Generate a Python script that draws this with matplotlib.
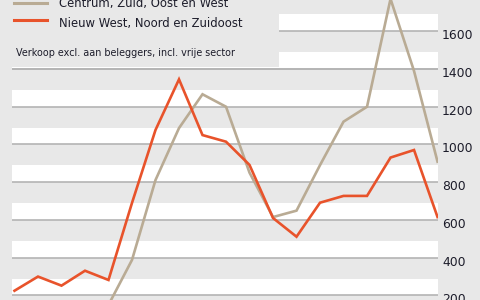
import matplotlib
matplotlib.use("Agg")
import matplotlib.pyplot as plt
from matplotlib.patches import Rectangle
import matplotlib.transforms as mtransforms

# Data
periods = list(range(19))
centrum = [120, 130, 140, 150, 150, 388, 811, 1086, 1265, 1199, 850, 615, 649,
           890, 1120, 1199, 1770, 1388, 908]
nieuw_west = [225, 300, 252, 331, 282, 690, 1076, 1344, 1049, 1014, 891, 610,
              511, 691, 727, 727, 930, 970, 615]
yticks = [200, 400, 600, 800, 1000, 1200, 1400, 1600]
series_labels = ["Centrum, Zuid, Oost en West", "Nieuw West, Noord en Zuidoost"]
note = "Verkoop excl. aan beleggers, incl. vrije sector"

BG = "#e8e8e8"
GRID = "#b4b4b4"
TAN = "#b9ab94"
ORANGE = "#e8532b"
TXT = "#1c1c2a"

fig = plt.figure(figsize=(4.8, 3.0), dpi=100, facecolor=BG)
ax = fig.add_axes([12 / 480, 0, (438 - 12) / 480, 1.0])
ax.set_facecolor(BG)
ax.set_xlim(-0.106, 18.02)
ax.set_ylim(176, 1764)

# white bands above each gridline
for v in yticks + [1800]:
    ax.axhspan(v, v + 88, color="white", lw=0, zorder=0)
for v in yticks + [1800]:
    ax.axhline(v, color=GRID, lw=1.2, zorder=1)

ax.plot(periods, centrum, color=TAN, lw=1.9, zorder=4, solid_joinstyle="miter")
ax.plot(periods, nieuw_west, color=ORANGE, lw=1.9, zorder=5, solid_joinstyle="miter")

for s in ax.spines.values():
    s.set_visible(False)
ax.set_xticks([])
ax.yaxis.tick_right()
ax.set_yticks(yticks)
ax.set_yticklabels([str(v) for v in yticks])
ax.tick_params(axis="y", length=0, pad=3, labelsize=8.9, labelcolor=TXT)
offset = mtransforms.ScaledTranslation(0, -3 / 100, fig.dpi_scale_trans)
for lab in ax.get_yticklabels():
    lab.set_transform(lab.get_transform() + offset)

# legend box (grey) covering the top-left area
fig.patches.append(Rectangle((0, 1 - 67 / 300), 279 / 480, 67 / 300,
                             transform=fig.transFigure, facecolor=BG,
                             edgecolor="none", zorder=2))
# redraw the 1400 gridline over the box region
ax.axhline(1400, color=GRID, lw=1.2, zorder=3)

def fy(px):
    return 1 - px / 300

def fx(px):
    return px / 480

fig.add_artist(plt.Line2D([fx(14), fx(47)], [fy(2.5), fy(2.5)], color=TAN, lw=2.2,
                          transform=fig.transFigure, zorder=6))
fig.add_artist(plt.Line2D([fx(14), fx(47)], [fy(20), fy(20)], color=ORANGE, lw=2.2,
                          transform=fig.transFigure, zorder=6))
fig.text(fx(59), fy(4), series_labels[0], fontsize=8.4, color=TXT, va="center",
         ha="left", zorder=7)
fig.text(fx(59), fy(24), series_labels[1], fontsize=8.4, color=TXT, va="center",
         ha="left", zorder=7)
fig.text(fx(16), fy(52.5), note, fontsize=6.9, color=TXT, va="center", ha="left",
         zorder=7)

fig.savefig("out.png", dpi=100, facecolor=BG)
